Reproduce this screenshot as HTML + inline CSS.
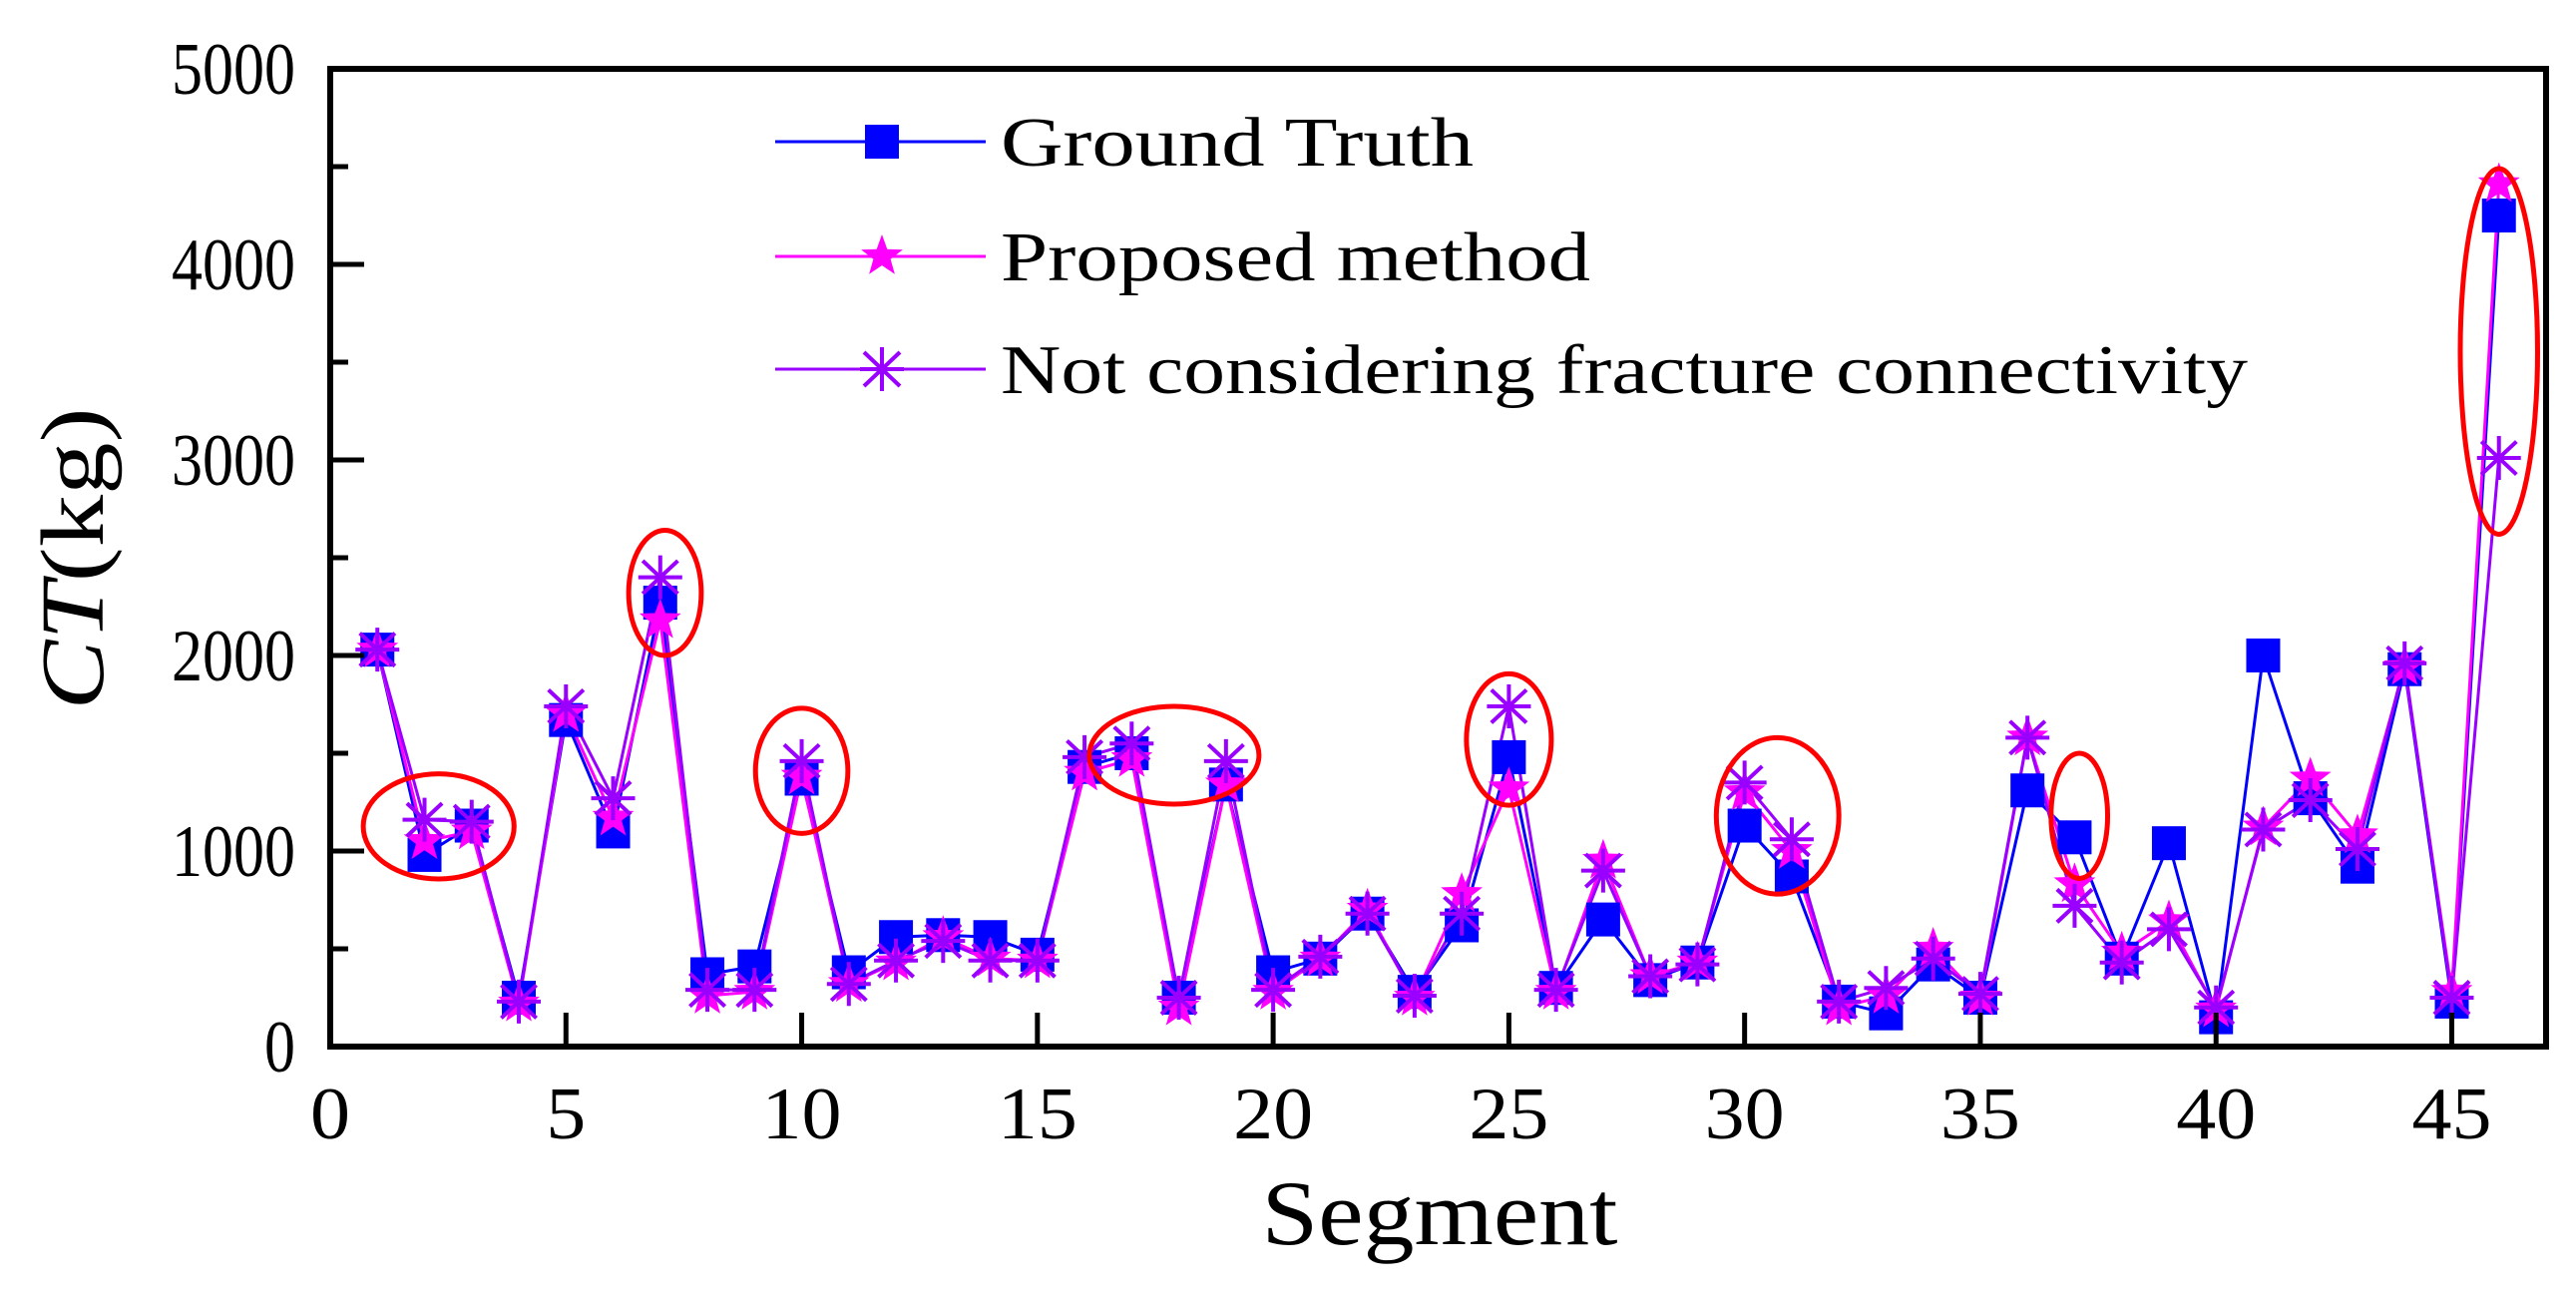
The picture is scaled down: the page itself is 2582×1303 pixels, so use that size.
<!DOCTYPE html>
<html><head><meta charset="utf-8"><style>
html,body{margin:0;padding:0;background:#fff;}
svg{display:block;font-family:"Liberation Serif",serif;}
</style></head><body>
<svg id="chart" width="2582" height="1303" viewBox="0 0 2582 1303" xmlns="http://www.w3.org/2000/svg"></svg>
<script>
const segments = [1,2,3,4,5,6,7,8,9,10,11,12,13,14,15,16,17,18,19,20,21,22,23,24,25,26,27,28,29,30,31,32,33,34,35,36,37,38,39,40,41,42,43,44,45,46];
const groundTruth = [2030,980,1130,250,1670,1100,2270,370,410,1370,380,560,570,560,470,1430,1500,250,1340,380,450,680,280,620,1480,300,650,340,430,1130,870,230,170,420,250,1310,1070,450,1040,150,2000,1270,920,1930,230,4250];
const proposed = [2030,1050,1100,220,1700,1170,2180,260,280,1380,320,430,560,450,440,1400,1470,200,1340,280,450,700,250,780,1320,280,950,360,430,1300,1000,200,260,500,250,1580,830,480,640,190,1120,1370,1080,1940,280,4410];
const notConsidering = [2030,1160,1150,230,1740,1270,2400,290,290,1460,320,440,540,440,440,1480,1550,250,1460,290,460,680,260,680,1740,290,900,360,420,1350,1060,230,300,450,270,1580,720,430,600,200,1110,1260,1010,1960,250,3010];
const xTicks = [0,5,10,15,20,25,30,35,40,45];
const yTicks = [0,1000,2000,3000,4000,5000];
const yMinor = [500,1500,2500,3500,4500];
// highlighted regions: [segment center, value center, segment half-width, value half-height]
const highlights = [[2.3,1126,1.6,269],[7.1,2320,0.77,320],[10.0,1410,0.98,320],[17.9,1490,1.8,250],[25.0,1570,0.9,336],[30.7,1180,1.3,400],[37.1,1180,0.6,320],[46.0,3555,0.82,935]];

const L=331,R=2552,T=69,B=1049,XMAX=47,YMAX=5000;
const xs=v=>L+(R-L)*v/XMAX;
const ys=v=>B-(B-T)*v/YMAX;
const NS="http://www.w3.org/2000/svg";
const svg=document.getElementById('chart');
function mk(tag,attrs,parent){const e=document.createElementNS(NS,tag);for(const k in attrs)e.setAttribute(k,attrs[k]);(parent||svg).appendChild(e);return e;}

function line(vals,color,name){
  const p=mk('polyline',{points:vals.map((v,i)=>xs(segments[i])+','+ys(v)).join(' '),fill:'none',stroke:color,'stroke-width':3});
  
  
}
line(groundTruth,'#0000ff','ground-truth-line');
line(proposed,'#ff00ff','proposed-method-line');
line(notConsidering,'#9900ff','not-considering-line');

function square(x,y,g){return mk('rect',{x:x-17,y:y-17,width:34,height:34,fill:'#0000ff'},g);}
function star(x,y,g){let pts=[];for(let k=0;k<10;k++){const r=k%2?9:22;const a=-Math.PI/2+k*Math.PI/5;pts.push((x+r*Math.cos(a))+','+(y+r*Math.sin(a)));}return mk('polygon',{points:pts.join(' '),fill:'#ff00ff'},g);}
function aster(x,y,g){const gg=mk('g',{stroke:'#9900ff','stroke-width':4},g);const r=22;
  mk('line',{x1:x,y1:y-r,x2:x,y2:y+r},gg);mk('line',{x1:x-r,y1:y,x2:x+r,y2:y},gg);
  mk('line',{x1:x-r*0.8,y1:y-r*0.75,x2:x+r*0.8,y2:y+r*0.75},gg);mk('line',{x1:x-r*0.8,y1:y+r*0.75,x2:x+r*0.8,y2:y-r*0.75},gg);return gg;}

segments.forEach((s,i)=>{const m=square(xs(s),ys(groundTruth[i]));
  
  });
segments.forEach((s,i)=>{const m=star(xs(s),ys(proposed[i]));
  
  });
segments.forEach((s,i)=>{const m=aster(xs(s),ys(notConsidering[i]));
  
  });

highlights.forEach(h=>{const e=mk('ellipse',{cx:xs(h[0]),cy:ys(h[1]),rx:(xs(h[2])-xs(0)),ry:(ys(0)-ys(h[3])),fill:'none',stroke:'#ff0000','stroke-width':5});
  
  });

const fr=mk('rect',{x:L,y:T,width:R-L,height:B-T,fill:'none',stroke:'#000','stroke-width':6});


xTicks.forEach(t=>{const x=xs(t);mk('line',{x1:x,y1:B,x2:x,y2:B-34,stroke:'#000','stroke-width':5});
  const s=String(t);
  const tx=mk('text',{x:x,y:B+92,'font-size':74,'text-anchor':'middle',textLength:s.length*40,lengthAdjust:'spacingAndGlyphs'});tx.textContent=s;
  
  });
yTicks.forEach(t=>{const y=ys(t);mk('line',{x1:L,y1:y,x2:L+34,y2:y,stroke:'#000','stroke-width':5});
  const s=String(t);
  const tx=mk('text',{x:296,y:y+25,'font-size':74,'text-anchor':'end',textLength:s.length*31,lengthAdjust:'spacingAndGlyphs'});tx.textContent=s;
  
  });
yMinor.forEach(t=>{const y=ys(t);mk('line',{x1:L,y1:y,x2:L+18,y2:y,stroke:'#000','stroke-width':5});});
</script>
<svg style="position:absolute;left:0;top:0" width="2582" height="1303">
<text x="1443" y="1247" font-size="92" text-anchor="middle" textLength="357" lengthAdjust="spacingAndGlyphs" font-family="Liberation Serif, serif">Segment</text>
<text transform="translate(103,560) rotate(-90)" font-size="90" text-anchor="middle" textLength="303" lengthAdjust="spacingAndGlyphs" font-family="Liberation Serif, serif"><tspan font-style="italic">CT</tspan>(kg)</text>
<g font-family="Liberation Serif, serif" font-size="70">
 <g>
  <line x1="777" y1="142" x2="988" y2="142" stroke="#0000ff" stroke-width="3"/>
  <rect x="867" y="125" width="34" height="34" fill="#0000ff"/>
  <text x="1003" y="166" textLength="474" lengthAdjust="spacingAndGlyphs">Ground Truth</text>
 </g>
 <g>
  <line x1="777" y1="257" x2="988" y2="257" stroke="#ff00ff" stroke-width="3"/>
  <polygon points="884,235 889.3,249.7 904.9,250.2 892.6,259.8 896.9,274.8 884,266 871.1,274.8 875.4,259.8 863.1,250.2 878.7,249.7" fill="#ff00ff"/>
  <text x="1003" y="281" textLength="591" lengthAdjust="spacingAndGlyphs">Proposed method</text>
 </g>
 <g>
  <line x1="777" y1="370" x2="988" y2="370" stroke="#9900ff" stroke-width="3"/>
  <g stroke="#9900ff" stroke-width="4"><line x1="884" y1="348" x2="884" y2="392"/><line x1="862" y1="370" x2="906" y2="370"/><line x1="866" y1="353" x2="902" y2="387"/><line x1="866" y1="387" x2="902" y2="353"/></g>
  <text x="1003" y="394" textLength="1250" lengthAdjust="spacingAndGlyphs">Not considering fracture connectivity</text>
 </g>
</g>
</svg>
</body></html>
